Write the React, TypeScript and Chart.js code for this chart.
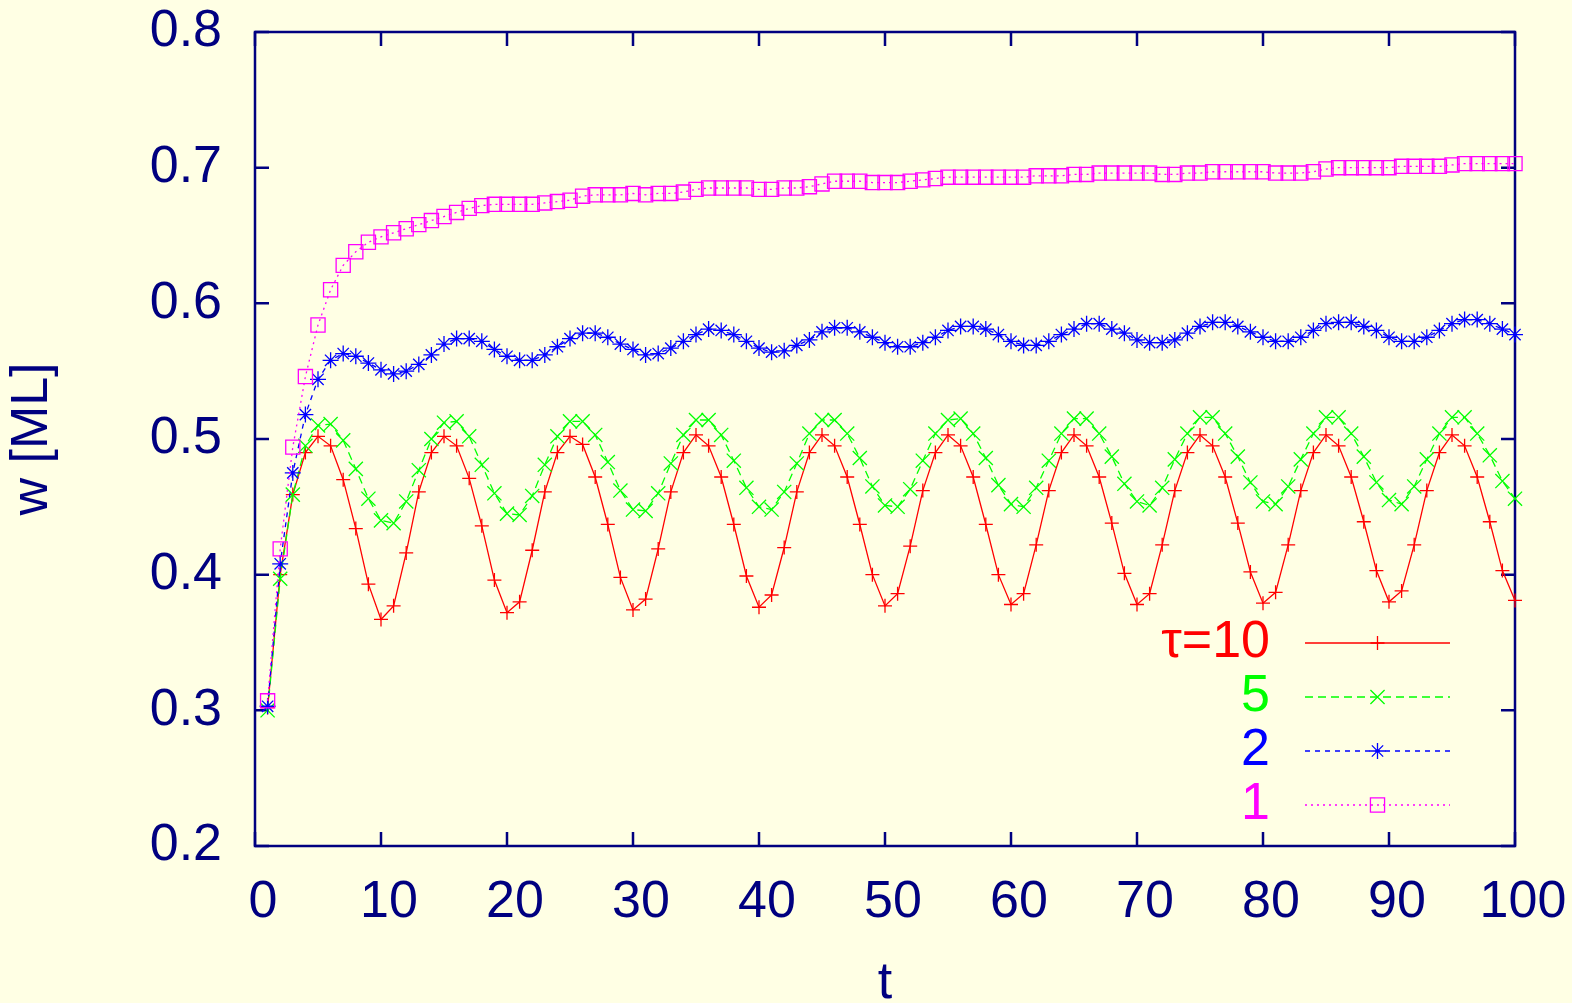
import React, { useEffect, useRef } from 'react';
import { Chart, registerables } from 'chart.js';

Chart.register(...registerables);

const T = [
  1, 2, 3, 4, 5, 6, 7, 8, 9, 10, 11, 12, 13, 14, 15, 16, 17, 18, 19, 20,
  21, 22, 23, 24, 25, 26, 27, 28, 29, 30, 31, 32, 33, 34, 35, 36, 37, 38, 39, 40,
  41, 42, 43, 44, 45, 46, 47, 48, 49, 50, 51, 52, 53, 54, 55, 56, 57, 58, 59, 60,
  61, 62, 63, 64, 65, 66, 67, 68, 69, 70, 71, 72, 73, 74, 75, 76, 77, 78, 79, 80,
  81, 82, 83, 84, 85, 86, 87, 88, 89, 90, 91, 92, 93, 94, 95, 96, 97, 98, 99, 100,
];

const TAU10 = [
  0.302, 0.400, 0.459, 0.490, 0.502, 0.495, 0.470, 0.434, 0.393, 0.367,
  0.377, 0.416, 0.461, 0.490, 0.502, 0.495, 0.471, 0.436, 0.396, 0.372,
  0.380, 0.418, 0.461, 0.490, 0.502, 0.496, 0.472, 0.437, 0.398, 0.374,
  0.382, 0.419, 0.461, 0.490, 0.503, 0.495, 0.472, 0.437, 0.399, 0.376,
  0.385, 0.420, 0.461, 0.490, 0.503, 0.495, 0.472, 0.437, 0.400, 0.377,
  0.386, 0.421, 0.462, 0.490, 0.503, 0.495, 0.472, 0.437, 0.400, 0.378,
  0.386, 0.422, 0.462, 0.490, 0.503, 0.495, 0.472, 0.438, 0.401, 0.378,
  0.386, 0.422, 0.462, 0.490, 0.503, 0.495, 0.472, 0.438, 0.402, 0.379,
  0.387, 0.422, 0.462, 0.490, 0.503, 0.495, 0.472, 0.439, 0.403, 0.380,
  0.388, 0.422, 0.462, 0.490, 0.503, 0.495, 0.472, 0.439, 0.403, 0.381,
];

const TAU5 = [
  0.300, 0.397, 0.459, 0.495, 0.510, 0.511, 0.499, 0.478, 0.456, 0.440,
  0.438, 0.454, 0.477, 0.500, 0.512, 0.513, 0.502, 0.481, 0.460, 0.445,
  0.444, 0.458, 0.481, 0.502, 0.513, 0.513, 0.503, 0.483, 0.462, 0.448,
  0.447, 0.460, 0.482, 0.503, 0.514, 0.514, 0.503, 0.484, 0.464, 0.450,
  0.448, 0.461, 0.482, 0.504, 0.514, 0.514, 0.504, 0.486, 0.465, 0.451,
  0.450, 0.463, 0.484, 0.504, 0.514, 0.515, 0.504, 0.486, 0.466, 0.452,
  0.450, 0.464, 0.484, 0.504, 0.515, 0.515, 0.504, 0.487, 0.467, 0.454,
  0.451, 0.464, 0.485, 0.504, 0.516, 0.516, 0.504, 0.487, 0.468, 0.454,
  0.452, 0.465, 0.485, 0.504, 0.516, 0.516, 0.504, 0.487, 0.468, 0.455,
  0.452, 0.465, 0.485, 0.504, 0.516, 0.516, 0.504, 0.488, 0.469, 0.456,
];

const TAU2 = [
  0.303, 0.408, 0.475, 0.518, 0.544, 0.558, 0.563, 0.561, 0.556, 0.551,
  0.548, 0.550, 0.555, 0.562, 0.570, 0.574, 0.574, 0.572, 0.566, 0.561,
  0.558, 0.558, 0.562, 0.568, 0.574, 0.578, 0.578, 0.575, 0.570, 0.566,
  0.562, 0.563, 0.567, 0.572, 0.577, 0.581, 0.580, 0.577, 0.572, 0.567,
  0.564, 0.565, 0.569, 0.573, 0.579, 0.582, 0.582, 0.579, 0.575, 0.571,
  0.568, 0.568, 0.571, 0.575, 0.580, 0.583, 0.583, 0.581, 0.577, 0.572,
  0.569, 0.569, 0.572, 0.577, 0.581, 0.585, 0.585, 0.581, 0.578, 0.573,
  0.571, 0.571, 0.573, 0.578, 0.583, 0.586, 0.586, 0.583, 0.579, 0.575,
  0.572, 0.572, 0.575, 0.580, 0.585, 0.586, 0.586, 0.583, 0.580, 0.575,
  0.572, 0.572, 0.575, 0.580, 0.585, 0.588, 0.588, 0.585, 0.581, 0.577,
];

const TAU1 = [
  0.307, 0.419, 0.494, 0.546, 0.584, 0.610, 0.628, 0.638, 0.645, 0.649,
  0.652, 0.655, 0.658, 0.661, 0.664, 0.667, 0.670, 0.672, 0.673, 0.673,
  0.673, 0.673, 0.674, 0.675, 0.676, 0.679, 0.680, 0.680, 0.680, 0.681,
  0.680, 0.681, 0.681, 0.682, 0.684, 0.685, 0.685, 0.685, 0.685, 0.684,
  0.684, 0.685, 0.685, 0.686, 0.688, 0.690, 0.690, 0.690, 0.689, 0.689,
  0.689, 0.690, 0.691, 0.692, 0.693, 0.693, 0.693, 0.693, 0.693, 0.693,
  0.693, 0.694, 0.694, 0.694, 0.695, 0.695, 0.696, 0.696, 0.696, 0.696,
  0.696, 0.695, 0.695, 0.696, 0.696, 0.697, 0.697, 0.697, 0.697, 0.697,
  0.696, 0.696, 0.696, 0.697, 0.699, 0.700, 0.700, 0.700, 0.700, 0.700,
  0.701, 0.701, 0.701, 0.701, 0.702, 0.703, 0.703, 0.703, 0.703, 0.703,
];

const LEGEND_LABELS = ['\u03c4=10', '5', '2', '1'];
const X_TICKS = [0, 10, 20, 30, 40, 50, 60, 70, 80, 90, 100];
const Y_TICKS = [0.2, 0.3, 0.4, 0.5, 0.6, 0.7, 0.8];
const X_TITLE = 't';
const Y_TITLE = 'w [ML]';

const NAVY = '#000080';
const BG = '#ffffe4';
const FONT = '"Liberation Sans", Arial, Helvetica, sans-serif';
const FONT_SIZE = 52;
const LINE_W = 1.3;

type Style = { color: string; dash: number[]; point: string; radius: number };
const STYLES: Style[] = [
  { color: '#ff0000', dash: [], point: 'cross', radius: 7 },
  { color: '#00ff00', dash: [8, 5], point: 'crossRot', radius: 10 },
  { color: '#0000ff', dash: [5, 5], point: 'star', radius: 8 },
  { color: '#ff00ff', dash: [2, 4], point: 'rect', radius: 10 },
];
const SERIES = [TAU10, TAU5, TAU2, TAU1];

function drawMarker(ctx: CanvasRenderingContext2D, shape: string, x: number, y: number, r: number) {
  ctx.beginPath();
  if (shape === 'cross' || shape === 'star') {
    ctx.moveTo(x - r, y); ctx.lineTo(x + r, y);
    ctx.moveTo(x, y - r); ctx.lineTo(x, y + r);
  }
  if (shape === 'crossRot' || shape === 'star') {
    const d = r * Math.SQRT1_2;
    ctx.moveTo(x - d, y - d); ctx.lineTo(x + d, y + d);
    ctx.moveTo(x - d, y + d); ctx.lineTo(x + d, y - d);
  }
  if (shape === 'rect') {
    const s = r * Math.SQRT1_2;
    ctx.rect(x - s, y - s, 2 * s, 2 * s);
  }
  ctx.stroke();
}

const gnuplotPlugin = {
  id: 'gnuplotLook',
  beforeDraw(chart: any) {
    const ctx = chart.ctx;
    ctx.save();
    ctx.fillStyle = BG;
    ctx.fillRect(0, 0, chart.width, chart.height);
    ctx.restore();
  },
  beforeDatasetsDraw(chart: any) {
    const ctx: CanvasRenderingContext2D = chart.ctx;
    const { left, right, top, bottom } = chart.chartArea;
    const xs = chart.scales.x;
    const ys = chart.scales.y;
    const tl = 14;
    ctx.save();
    ctx.strokeStyle = NAVY;
    ctx.lineWidth = 2.5;
    ctx.beginPath();
    X_TICKS.forEach((v) => {
      const px = xs.getPixelForValue(v);
      ctx.moveTo(px, bottom); ctx.lineTo(px, bottom - tl);
      ctx.moveTo(px, top); ctx.lineTo(px, top + tl);
    });
    Y_TICKS.forEach((v) => {
      const py = ys.getPixelForValue(v);
      ctx.moveTo(left, py); ctx.lineTo(left + tl, py);
      ctx.moveTo(right, py); ctx.lineTo(right - tl, py);
    });
    ctx.stroke();
    ctx.strokeRect(left, top, right - left, bottom - top);
    ctx.restore();
  },
  afterDatasetsDraw(chart: any) {
    const ctx: CanvasRenderingContext2D = chart.ctx;
    const textRight = 1270;
    const lineStart = 1305;
    const lineEnd = 1450;
    const firstRow = 643;
    const rowStep = 54;
    ctx.save();
    ctx.font = `${FONT_SIZE}px ${FONT}`;
    ctx.textAlign = 'right';
    ctx.textBaseline = 'middle';
    LEGEND_LABELS.forEach((label, i) => {
      const st = STYLES[i];
      const y = firstRow + i * rowStep;
      ctx.fillStyle = st.color;
      ctx.fillText(label, textRight, y);
      ctx.strokeStyle = st.color;
      ctx.lineWidth = LINE_W;
      ctx.setLineDash(st.dash);
      ctx.beginPath();
      ctx.moveTo(lineStart, y);
      ctx.lineTo(lineEnd, y);
      ctx.stroke();
      ctx.setLineDash([]);
      drawMarker(ctx, st.point, (lineStart + lineEnd) / 2, y, st.radius);
    });
    ctx.restore();
  },
};

function clearPadding(scale: any) {
  scale.paddingTop = 0;
  scale.paddingBottom = 0;
  scale.paddingLeft = 0;
  scale.paddingRight = 0;
}

export default function App() {
  const canvasRef = useRef<HTMLCanvasElement | null>(null);

  useEffect(() => {
    document.body.style.margin = '0';
    document.body.style.background = BG;
    const canvas = canvasRef.current;
    if (!canvas) return;

    const datasets = SERIES.map((values, i) => {
      const st = STYLES[i];
      return {
        label: LEGEND_LABELS[i],
        data: values.map((v, k) => ({ x: T[k], y: v })),
        borderColor: st.color,
        backgroundColor: 'transparent',
        borderWidth: LINE_W,
        borderDash: st.dash,
        pointStyle: st.point,
        pointRadius: st.radius,
        pointBorderWidth: LINE_W,
        pointBorderColor: st.color,
        pointBackgroundColor: 'transparent',
        tension: 0,
        fill: false,
        clip: false,
        order: SERIES.length - i,
      };
    });

    const chart = new Chart(canvas, {
      type: 'line',
      data: { datasets },
      plugins: [gnuplotPlugin],
      options: {
        animation: false,
        responsive: false,
        events: [],
        layout: { padding: { top: 32, right: 57, left: 0, bottom: 0 } },
        plugins: {
          legend: { display: false },
          tooltip: { enabled: false },
        },
        scales: {
          x: {
            type: 'linear',
            min: 0,
            max: 100,
            afterFit: (scale: any) => { scale.height = 157; clearPadding(scale); },
            afterBuildTicks: (scale: any) => { scale.ticks = X_TICKS.map((v) => ({ value: v })); },
            grid: { display: false, drawTicks: false },
            border: { display: false },
            ticks: {
              autoSkip: false,
              maxRotation: 0,
              padding: 25,
              labelOffset: 8,
              color: NAVY,
              font: { family: FONT, size: FONT_SIZE },
              callback: (v: any) => String(v),
            },
            title: {
              display: true,
              text: X_TITLE,
              color: NAVY,
              font: { family: FONT, size: FONT_SIZE, lineHeight: 0.7 },
              padding: { top: 0, bottom: 1 },
            },
          },
          y: {
            type: 'linear',
            min: 0.2,
            max: 0.8,
            afterFit: (scale: any) => { scale.width = 255; clearPadding(scale); },
            afterBuildTicks: (scale: any) => { scale.ticks = Y_TICKS.map((v) => ({ value: v })); },
            grid: { display: false, drawTicks: false },
            border: { display: false },
            ticks: {
              padding: 33,
              color: NAVY,
              font: { family: FONT, size: FONT_SIZE },
              callback: (v: any) => Number(v).toFixed(1),
            },
            title: {
              display: true,
              text: Y_TITLE,
              color: NAVY,
              font: { family: FONT, size: FONT_SIZE, lineHeight: 1.2 },
              padding: { top: 1, bottom: 0 },
            },
          },
        },
      } as any,
    });

    return () => chart.destroy();
  }, []);

  return (
    <div style={{ position: 'fixed', left: 0, top: 0, width: 1572, height: 1003, background: BG }}>
      <canvas ref={canvasRef} width={1572} height={1003} style={{ display: 'block' }} />
    </div>
  );
}
